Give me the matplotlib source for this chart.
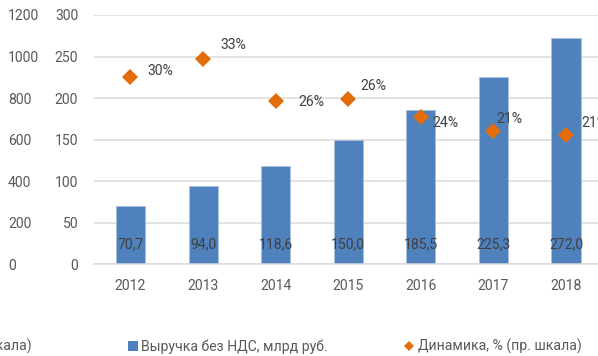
import numpy as np
import matplotlib
matplotlib.use("Agg")
import matplotlib.pyplot as plt
from matplotlib.lines import Line2D
from matplotlib.patches import Patch

plt.rcParams['font.family'] = ['Roboto', 'DejaVu Sans']

years = ["2012", "2013", "2014", "2015", "2016", "2017", "2018"]
revenue = [70.7, 94.0, 118.6, 150.0, 185.5, 225.3, 272.0]   # млрд руб.
growth = [30.1, 33.0, 26.2, 26.5, 23.7, 21.4, 20.7]          # %
left_ticks = [0, 200, 400, 600, 800, 1000, 1200]
mid_ticks = [0, 50, 100, 150, 200, 250, 300]

# сдвиги подписей процентов (пиксели, dpi=72 -> pt == px)
pct_offsets = [(17, 6), (17, 14), (23, -1), (12, 13), (12, -6), (3, 12), (15, 12)]

BLUE = '#4f81bd'
ORANGE = '#e46c0a'
GRID = '#d9d9d9'
TXT = '#595959'
DARK = '#404040'

W, H = 598, 356
fig = plt.figure(figsize=(W / 72, H / 72), dpi=72)
ax = fig.add_axes([94.2 / W, 91.7 / H, (602.3 - 94.2) / W, 249.3 / H])

x = np.arange(len(years))
ax.bar(x, revenue, width=0.4, color=BLUE, edgecolor='#a9c0de', linewidth=0.8, zorder=2)
ax.set_xlim(-0.5, len(years) - 0.5)
ax.set_ylim(0, 300)
ax.set_yticks(mid_ticks)
ax.set_xticks(x)
ax.set_xticklabels(years)
ax.yaxis.grid(True, color=GRID, linewidth=1.5)
ax.set_axisbelow(True)
for s in ['top', 'right', 'left']:
    ax.spines[s].set_visible(False)
ax.spines['bottom'].set_color(GRID)
ax.spines['bottom'].set_linewidth(1.5)
ax.tick_params(axis='y', length=0, pad=16, labelsize=14, labelcolor=TXT)
ax.tick_params(axis='x', length=0, pad=15, labelsize=14, labelcolor=TXT)

for xi, v in zip(x, revenue):
    ax.annotate(f"{v:.1f}".replace('.', ','), (xi, 0), xytext=(0, 20),
                textcoords='offset points', ha='center', va='center',
                fontsize=14, color=DARK, zorder=3)

# внешняя левая шкала
ax_l = ax.twinx()
ax_l.set_ylim(0, 1200)
ax_l.yaxis.tick_left()
ax_l.set_yticks(left_ticks)
for s in ax_l.spines.values():
    s.set_visible(False)
ax_l.tick_params(axis='y', length=0, pad=86.2, labelsize=14, labelcolor=TXT)
for lbl in ax_l.get_yticklabels():
    lbl.set_horizontalalignment('left')

# динамика, правая шкала
ax_r = ax.twinx()
ax_r.set_ylim(0, 40)
ax_r.set_yticks([])
for s in ax_r.spines.values():
    s.set_visible(False)
ax_r.plot(x, growth, linestyle='none', marker='D', markersize=12,
          markeredgewidth=0, color=ORANGE, zorder=4)
for xi, v, (dx, dy) in zip(x, growth, pct_offsets):
    ax_r.annotate(f"{v:.0f}%", (xi, v), xytext=(dx, dy), textcoords='offset points',
                  ha='left', va='center', fontsize=14, color=DARK)

handles = [Patch(facecolor=BLUE, edgecolor='none'),
           Line2D([], [], linestyle='none', marker='D', markersize=6.5,
                  markeredgewidth=0, color=ORANGE)]
fig.legend(handles, ["Выручка без НДС, млрд руб.", "Динамика, % (пр. шкала)"],
           loc='center left', bbox_to_anchor=(128 / W, 9.5 / H), ncol=2,
           frameon=False, fontsize=14, labelcolor=TXT, borderpad=0, borderaxespad=0,
           handlelength=0.7, handleheight=0.7, handletextpad=0.25, columnspacing=5.45)
fig.text(32 / W, 9.5 / H, "Рентабельность, % (лев. шкала)", ha='right', va='center',
         fontsize=14, color=TXT)

fig.savefig("out.png", dpi=72)
